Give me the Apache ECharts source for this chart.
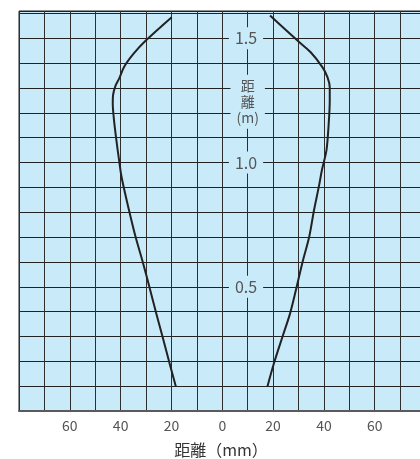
<!DOCTYPE html>
<html>
<head>
<meta charset="utf-8">
<script src="https://cdn.jsdelivr.net/npm/echarts@6/dist/echarts.min.js"></script>
<style>
	html, body { margin: 0; padding: 0; background: #fff; }
	#chart { width: 420px; height: 459px; }
</style>
</head>
<body>
<div id="chart"></div>
<script>
	/* data: distance across (mm) vs distance (m) */
	var leftX = [-18.3, -20.8, -23.5, -26.0, -28.6, -31.3, -34.1, -36.7, -39.6, -40.6, -41.8, -42.7, -43.1, -43.0, -42.0, -40.5, -38.7, -34.9, -30.1, -19.9];
	var leftY = [0.10, 0.194, 0.299, 0.393, 0.496, 0.600, 0.700, 0.808, 0.940, 1.009, 1.100, 1.180, 1.237, 1.270, 1.310, 1.340, 1.384, 1.438, 1.491, 1.585];
	var rightX = [17.8, 20.4, 23.7, 26.7, 29.2, 31.6, 34.2, 36.1, 38.1, 39.2, 41.0, 41.8, 42.3, 42.3, 41.4, 39.4, 34.8, 29.6, 18.8];
	var rightY = [0.10, 0.194, 0.299, 0.393, 0.496, 0.600, 0.700, 0.808, 0.908, 0.969, 1.049, 1.143, 1.250, 1.303, 1.344, 1.384, 1.444, 1.491, 1.592];

	var xTickValues = [-60, -40, -20, 0, 20, 40, 60];
	var xTickLabels = ['60', '40', '20', '0', '20', '40', '60'];
	var yTickValues = [0.5, 1.0, 1.5];
	var yTickLabels = ['0.5', '1.0', '1.5'];

	var xName = '距離（mm）';
	var yName = '距\n離\n(m)';

	function pairs(xs, ys) {
		var out = [];
		for (var i = 0; i < xs.length; i++) {
			out.push([xs[i], ys[i]]);
		}
		return out;
	}

	function pickLabel(values, labels, v) {
		for (var i = 0; i < values.length; i++) {
			if (Math.abs(values[i] - v) < 1e-6) return labels[i];
		}
		return '';
	}

	var bg = '#c8eaf9';
	var font = '"Noto Sans CJK JP", "Noto Sans", sans-serif';

	var chart = echarts.init(document.getElementById('chart'));
	var option = {
		backgroundColor: '#fff',
		animation: false,
		grid: {
			show: true,
			left: 19,
			right: -3,
			top: 11,
			bottom: 48,
			outerBoundsMode: 'none',
			containLabel: false,
			backgroundColor: bg,
			borderColor: '#222',
			borderWidth: 1
		},
		xAxis: {
			type: 'value',
			min: -80,
			max: 79,
			interval: 10,
			name: xName,
			nameLocation: 'middle',
			nameGap: 31,
			nameTextStyle: {
				fontFamily: font,
				fontSize: 16,
				color: '#333'
			},
			axisLine: {
				onZero: false,
				lineStyle: { color: '#5a5a5a', width: 2 }
			},
			axisTick: { show: false },
			axisLabel: {
				margin: 8,
				fontFamily: font,
				fontSize: 14,
				color: '#555',
				showMaxLabel: false,
				formatter: function(v) { return pickLabel(xTickValues, xTickLabels, v); }
			},
			splitLine: {
				show: true,
				lineStyle: { color: '#2e2e2e', width: 1 }
			}
		},
		yAxis: {
			type: 'value',
			min: 0,
			max: 1.61,
			interval: 0.1,
			position: 'left',
			offset: -227,
			axisLine: { show: false, onZero: false },
			axisTick: { show: false },
			axisLabel: {
				margin: 0,
				align: 'center',
				showMaxLabel: false,
				formatter: function(v) {
					var s = pickLabel(yTickValues, yTickLabels, v);
					return s ? '{b|' + s + '}' : '';
				},
				rich: {
					b: {
						fontFamily: font,
						fontSize: 16,
						color: '#555',
						backgroundColor: bg,
						padding: [3, 6]
					}
				}
			},
			splitLine: {
				show: true,
				lineStyle: { color: '#222', width: 1 }
			}
		},
		series: [{
			type: 'line',
			data: pairs(leftX, leftY),
			smooth: 0.3,
			showSymbol: false,
			lineStyle: { color: '#222', width: 2 }
		}, {
			type: 'line',
			data: pairs(rightX, rightY),
			smooth: 0.3,
			showSymbol: false,
			lineStyle: { color: '#222', width: 2 }
		}]
	};
	chart.setOption(option);

	/* vertical axis title sits on the 10 mm line */
	var p = chart.convertToPixel({ gridIndex: 0 }, [10, 1.245]);
	chart.setOption({
		graphic: [{
			type: 'text',
			x: p[0],
			y: p[1],
			z: 10,
			style: {
				text: yName,
				align: 'center',
				verticalAlign: 'middle',
				fontFamily: font,
				fontSize: 14,
				lineHeight: 16,
				fill: '#555',
				backgroundColor: bg,
				padding: [3, 6]
			}
		}]
	});
</script>
</body>
</html>
